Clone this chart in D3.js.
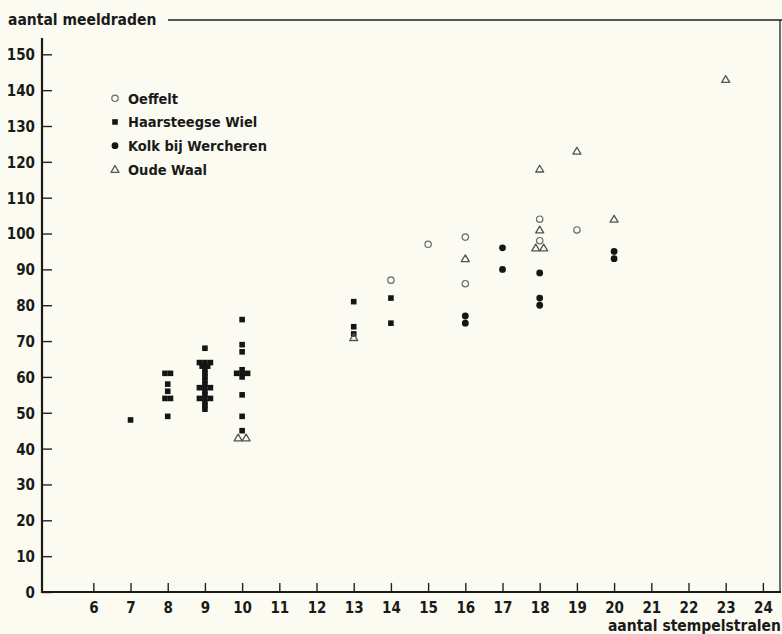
<!DOCTYPE html>
<html>
<head>
<meta charset="utf-8">
<script src="https://cdn.jsdelivr.net/npm/d3@7"></script>
<style>
html,body{margin:0;padding:0;background:#fbfbf1;}
svg{display:block;}
text{font-family:"Liberation Sans Narrow","DejaVu Sans Condensed","Roboto Condensed","Liberation Sans",sans-serif;font-weight:bold;fill:#1a1a1a;}
</style>
</head>
<body>
<svg id="chart" width="782" height="634"></svg>
<script>
// ---- data ----
const seriesNames = ["Oeffelt", "Haarsteegse Wiel", "Kolk bij Wercheren", "Oude Waal"];
const xTicks = d3.range(6, 25);
const yTicks = d3.range(0, 151, 10);
const xTitle = "aantal stempelstralen";
const yTitle = "aantal meeldraden";

const oeffelt = [[14,87],[15,97],[16,99],[16,86],[18,104],[18,98],[19,101]];
const haarsteegse = [
  [7,48],
  [8,61],[8,61],[8,58],[8,56],[8,54],[8,54],[8,49],
  [9,68],[9,64],[9,64],[9,64],[9,63],[9,63],[9,62],[9,61],[9,60],[9,59],[9,58],[9,57],[9,57],[9,57],[9,56],[9,55],[9,54],[9,54],[9,54],[9,53],[9,52],[9,51],
  [10,76],[10,69],[10,67],[10,62],[10,61],[10,61],[10,61],[10,60],[10,55],[10,49],[10,45],
  [13,81],[13,74],[13,72],
  [14,82],[14,75]
];
const kolk = [[16,77],[16,75],[17,96],[17,90],[18,89],[18,82],[18,80],[20,95],[20,93]];
const oudeWaal = [[10,43],[10,43],[13,71],[16,93],[18,118],[18,101],[18,96],[18,96],[19,123],[20,104],[23,143]];

const seriesData = [oeffelt, haarsteegse, kolk, oudeWaal];
const seriesShapes = ["circle", "square", "dot", "triangle"];
const dodgeSpacing = {circle: 7, square: 5.5, dot: 7, triangle: 8};

// ---- layout ----
const svg = d3.select("#chart");
const x = d3.scaleLinear().domain([4.62, 24.46]).range([42, 780]);
const y = d3.scaleLinear().domain([0, 150]).range([592, 54.3]);

// frame: top rule, right rule
svg.append("line").attr("x1", 168).attr("x2", 782).attr("y1", 20).attr("y2", 20)
  .attr("stroke", "#222").attr("stroke-width", 1.3);
svg.append("line").attr("x1", 780).attr("x2", 780).attr("y1", 20).attr("y2", 592)
  .attr("stroke", "#222").attr("stroke-width", 1.3);

// y axis
const yAxis = d3.axisRight(y).tickValues(yTicks).tickSize(10).tickFormat(d3.format("d"));
const gy = svg.append("g").attr("transform", "translate(42,0)").call(yAxis);
gy.select(".domain").remove();
gy.selectAll(".tick line").attr("stroke", "#222").attr("stroke-width", 1.4);
gy.selectAll(".tick text").attr("x", -7).attr("text-anchor", "end")
  .attr("dy", "0.36em").style("font-size", "15px");
svg.append("line").attr("x1", 42).attr("x2", 42).attr("y1", 38).attr("y2", 593)
  .attr("stroke", "#1a1a1a").attr("stroke-width", 2.2);

// x axis
const xAxis = d3.axisTop(x).tickValues(xTicks).tickSize(9).tickFormat(d3.format("d"));
const gx = svg.append("g").attr("transform", "translate(0,592)").call(xAxis);
gx.select(".domain").remove();
gx.selectAll(".tick line").attr("stroke", "#222").attr("stroke-width", 1.4);
gx.selectAll(".tick text").attr("y", 16).attr("dy", "0.36em").style("font-size", "15px");
svg.append("line").attr("x1", 41).attr("x2", 781).attr("y1", 592).attr("y2", 592)
  .attr("stroke", "#1a1a1a").attr("stroke-width", 2.2);

// titles
svg.append("text").attr("x", 8).attr("y", 25).style("font-size", "15.5px").text(yTitle);
svg.append("text").attr("x", 781).attr("y", 631).attr("text-anchor", "end")
  .style("font-size", "15.5px").text(xTitle);

// marker drawing
function drawMarker(g, shape) {
  if (shape === "circle") {
    g.append("circle").attr("r", 3.2).attr("fill", "none").attr("stroke", "#6a6a6a").attr("stroke-width", 1.2);
  } else if (shape === "dot") {
    g.append("circle").attr("r", 3.4).attr("fill", "#151515");
  } else if (shape === "square") {
    g.append("rect").attr("x", -2.8).attr("y", -2.8).attr("width", 5.6).attr("height", 5.6).attr("fill", "#151515");
  } else {
    g.append("path").attr("d", "M0,-3.8L4,3L-4,3Z").attr("fill", "none")
      .attr("stroke", "#555").attr("stroke-width", 1.3).attr("stroke-linejoin", "round");
  }
}

// points (identical values drawn side by side)
seriesData.forEach((data, si) => {
  const shape = seriesShapes[si];
  const groups = d3.group(data, d => d[0] + "|" + d[1]);
  const pts = [];
  groups.forEach(arr => {
    arr.forEach((d, i) => pts.push({x: d[0], y: d[1], off: (i - (arr.length - 1) / 2) * dodgeSpacing[shape]}));
  });
  svg.append("g").selectAll("g").data(pts).join("g")
    .attr("transform", d => `translate(${x(d.x) + d.off},${y(d.y)})`)
    .each(function() { drawMarker(d3.select(this), shape); });
});

// legend
const legendY = d3.scalePoint().domain(seriesNames).range([98.3, 169.3]);
const lg = svg.append("g");
seriesNames.forEach((name, i) => {
  const row = lg.append("g").attr("transform", `translate(115,${legendY(name)})`);
  drawMarker(row, seriesShapes[i]);
  row.append("text").attr("x", 13).attr("dy", "0.36em").style("font-size", "14.5px").text(name);
});
</script>
</body>
</html>
